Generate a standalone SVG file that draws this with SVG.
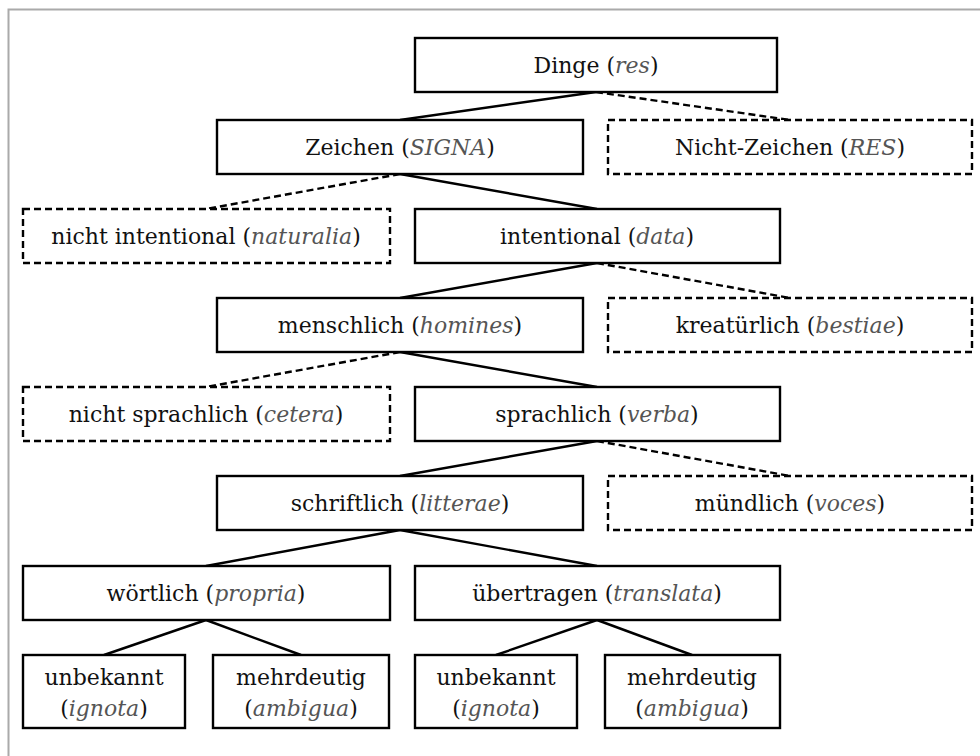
<svg xmlns="http://www.w3.org/2000/svg" width="980" height="756" viewBox="0 0 980 756">
  <style>
    .box { fill: #ffffff; stroke: #000000; stroke-width: 2.4; }
    .dash { stroke-dasharray: 7 4; }
    .edge { fill: none; stroke: #000000; stroke-width: 2.4; }
    text { font-family: "DejaVu Serif", "Liberation Serif", serif; font-size: 22px; fill: #111111; text-anchor: middle; }
    .it { font-style: italic; fill: #555555; }
  </style>
  <rect width="980" height="756" fill="#ffffff"/>
  <!-- frame -->
  <path d="M8.5 756 V9.5 H980" fill="none" stroke="#aaaaaa" stroke-width="2"/>

  <g id="connectors">
    <line class="edge" x1="596" y1="92" x2="400" y2="120"/>
    <line class="edge dash" x1="596" y1="92" x2="790" y2="120"/>
    <line class="edge dash" x1="400" y1="174" x2="206" y2="209"/>
    <line class="edge" x1="400" y1="174" x2="597" y2="209"/>
    <line class="edge" x1="597" y1="263" x2="400" y2="298"/>
    <line class="edge dash" x1="597" y1="263" x2="790" y2="298"/>
    <line class="edge dash" x1="400" y1="352" x2="206" y2="387"/>
    <line class="edge" x1="400" y1="352" x2="597" y2="387"/>
    <line class="edge" x1="597" y1="441" x2="400" y2="476"/>
    <line class="edge dash" x1="597" y1="441" x2="790" y2="476"/>
    <line class="edge" x1="400" y1="530" x2="206" y2="566"/>
    <line class="edge" x1="400" y1="530" x2="597" y2="566"/>
    <line class="edge" x1="206" y1="620" x2="104" y2="655"/>
    <line class="edge" x1="206" y1="620" x2="301" y2="655"/>
    <line class="edge" x1="597" y1="620" x2="496" y2="655"/>
    <line class="edge" x1="597" y1="620" x2="692" y2="655"/>
  </g>

  <g id="dinge">
    <rect class="box" x="415" y="38" width="362" height="54"/>
    <text x="596" y="73">Dinge (<tspan class="it">res</tspan>)</text>
  </g>
  <g id="zeichen">
    <rect class="box" x="217" y="120" width="366" height="54"/>
    <text x="400" y="155">Zeichen (<tspan class="it">SIGNA</tspan>)</text>
  </g>
  <g id="nicht-zeichen">
    <rect class="box dash" x="608" y="120" width="364" height="54"/>
    <text x="790" y="155">Nicht-Zeichen (<tspan class="it">RES</tspan>)</text>
  </g>
  <g id="nicht-intentional">
    <rect class="box dash" x="23" y="209" width="367" height="54"/>
    <text x="206" y="244">nicht intentional (<tspan class="it">naturalia</tspan>)</text>
  </g>
  <g id="intentional">
    <rect class="box" x="415" y="209" width="365" height="54"/>
    <text x="597" y="244">intentional (<tspan class="it">data</tspan>)</text>
  </g>
  <g id="menschlich">
    <rect class="box" x="217" y="298" width="366" height="54"/>
    <text x="400" y="333">menschlich (<tspan class="it">homines</tspan>)</text>
  </g>
  <g id="kreatuerlich">
    <rect class="box dash" x="608" y="298" width="364" height="54"/>
    <text x="790" y="333">kreatürlich (<tspan class="it">bestiae</tspan>)</text>
  </g>
  <g id="nicht-sprachlich">
    <rect class="box dash" x="23" y="387" width="367" height="54"/>
    <text x="206" y="422">nicht sprachlich (<tspan class="it">cetera</tspan>)</text>
  </g>
  <g id="sprachlich">
    <rect class="box" x="415" y="387" width="365" height="54"/>
    <text x="597" y="422">sprachlich (<tspan class="it">verba</tspan>)</text>
  </g>
  <g id="schriftlich">
    <rect class="box" x="217" y="476" width="366" height="54"/>
    <text x="400" y="511">schriftlich (<tspan class="it">litterae</tspan>)</text>
  </g>
  <g id="muendlich">
    <rect class="box dash" x="608" y="476" width="364" height="54"/>
    <text x="790" y="511">mündlich (<tspan class="it">voces</tspan>)</text>
  </g>
  <g id="woertlich">
    <rect class="box" x="23" y="566" width="367" height="54"/>
    <text x="206" y="601">wörtlich (<tspan class="it">propria</tspan>)</text>
  </g>
  <g id="uebertragen">
    <rect class="box" x="415" y="566" width="365" height="54"/>
    <text x="597" y="601">übertragen (<tspan class="it">translata</tspan>)</text>
  </g>
  <g id="woertlich-unbekannt">
    <rect class="box" x="23" y="655" width="162" height="73"/>
    <text x="104" y="685">unbekannt</text>
    <text x="104" y="716">(<tspan class="it">ignota</tspan>)</text>
  </g>
  <g id="woertlich-mehrdeutig">
    <rect class="box" x="213" y="655" width="176" height="73"/>
    <text x="301" y="685">mehrdeutig</text>
    <text x="301" y="716">(<tspan class="it">ambigua</tspan>)</text>
  </g>
  <g id="uebertragen-unbekannt">
    <rect class="box" x="415" y="655" width="162" height="73"/>
    <text x="496" y="685">unbekannt</text>
    <text x="496" y="716">(<tspan class="it">ignota</tspan>)</text>
  </g>
  <g id="uebertragen-mehrdeutig">
    <rect class="box" x="605" y="655" width="175" height="73"/>
    <text x="692" y="685">mehrdeutig</text>
    <text x="692" y="716">(<tspan class="it">ambigua</tspan>)</text>
  </g>
</svg>
